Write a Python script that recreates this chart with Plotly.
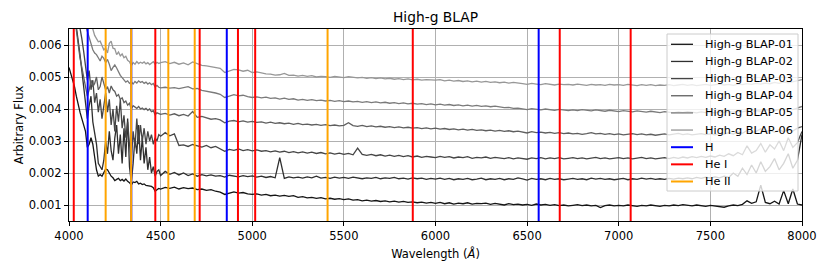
import plotly.graph_objects as go

# ---------------- data ----------------
series_names = ["High-g BLAP-01", "High-g BLAP-02", "High-g BLAP-03",
                "High-g BLAP-04", "High-g BLAP-05", "High-g BLAP-06"]
series_colors = ["#151515", "#2f2f2f", "#454545", "#5f5f5f", "#7a7a7a", "#979797"]

# wavelength grids (Angstrom)
wl_blue = list(range(4000, 4500, 10))
wl_red = list(range(4500, 8001, 25))

blap01_blue = [0.0053, 0.0051, 0.0049, 0.0047, 0.0044, 0.0041, 0.0039, 0.0037, 0.0035, 0.0033,
               0.0028, 0.0029, 0.0031, 0.0029, 0.0025, 0.0021, 0.0019, 0.00195, 0.0019, 0.0020,
               0.00212, 0.0021, 0.00198, 0.0019, 0.00185, 0.00176, 0.0018, 0.00183, 0.00176, 0.0018,
               0.00175, 0.00181, 0.00174, 0.0017, 0.00162, 0.00172, 0.0017, 0.00174, 0.00166, 0.00168,
               0.00164, 0.00166, 0.00161, 0.0016, 0.00157, 0.00158, 0.00154, 0.00143, 0.00148, 0.00152]
blap01_red = [0.00150, 0.00155, 0.00152, 0.00156, 0.00150, 0.00154, 0.00151, 0.00153, 0.00148, 0.00150,
              0.00146, 0.00148, 0.00143, 0.00140, 0.00133, 0.00138, 0.00141, 0.00137, 0.00139, 0.00135,
              0.00133, 0.00135, 0.00131, 0.00133, 0.00129, 0.00131, 0.00128, 0.00130, 0.00127, 0.00129,
              0.00124, 0.00126, 0.00122, 0.00124, 0.00121, 0.00123, 0.00119, 0.00121, 0.00118, 0.00120,
              0.00117, 0.00119, 0.00115, 0.00117, 0.00113, 0.00115, 0.00112, 0.00114, 0.00111, 0.00113,
              0.00110, 0.00112, 0.00109, 0.00111, 0.00108, 0.00110, 0.00107, 0.00109, 0.00106, 0.00108,
              0.00105, 0.00108, 0.00104, 0.00107, 0.00103, 0.00106, 0.00104, 0.00107, 0.00103, 0.00105,
              0.00104, 0.00106, 0.00102, 0.00105, 0.00103, 0.00100, 0.00104, 0.00101, 0.00103, 0.00100,
              0.00102, 0.00099, 0.00103, 0.00100, 0.00102, 0.00099, 0.00101, 0.00098, 0.00100, 0.00097,
              0.00099, 0.00101, 0.00098, 0.00100, 0.00097, 0.00099, 0.00092, 0.00098, 0.00100, 0.00097,
              0.00099, 0.00097, 0.00100, 0.00098, 0.00096, 0.00099, 0.00097, 0.00100, 0.00098, 0.00096,
              0.00099, 0.00097, 0.00100, 0.00098, 0.00101, 0.00099, 0.00097, 0.00100, 0.00098, 0.00096,
              0.00099, 0.00097, 0.00095, 0.00093, 0.00097, 0.00100, 0.00098, 0.00102, 0.00113, 0.00105,
              0.00110, 0.00162, 0.00108, 0.00104, 0.00112, 0.00103, 0.00145, 0.00104, 0.00150, 0.00103,
              0.00100]

blap02_blue = [0.0078, 0.0076, 0.0073, 0.0070, 0.0066, 0.0062, 0.0057, 0.0052, 0.0047, 0.0042,
               0.0037, 0.0041, 0.0044, 0.0036, 0.0033, 0.0029, 0.0023, 0.0022, 0.0021, 0.0024,
               0.0030, 0.0026, 0.0033, 0.0027, 0.0024, 0.0031, 0.0035, 0.0026, 0.0032, 0.0023,
               0.0034, 0.0025, 0.0037, 0.0022, 0.0017, 0.0023, 0.0031, 0.0026, 0.0035, 0.0024,
               0.0031, 0.0023, 0.0028, 0.0021, 0.0025, 0.0020, 0.0022, 0.0019, 0.00205, 0.0021]
blap02_red = [0.00192, 0.00205, 0.00196, 0.00202, 0.00194, 0.00200, 0.00192, 0.00197, 0.00190, 0.00195,
              0.00191, 0.00194, 0.00190, 0.00192, 0.00187, 0.00193, 0.00190, 0.00188, 0.00192, 0.00189,
              0.00191, 0.00187, 0.00190, 0.00186, 0.00189, 0.00185, 0.00248, 0.00183, 0.00188, 0.00185,
              0.00187, 0.00184, 0.00188, 0.00185, 0.00190, 0.00184, 0.00186, 0.00183, 0.00187, 0.00184,
              0.00186, 0.00183, 0.00187, 0.00184, 0.00182, 0.00185, 0.00183, 0.00186, 0.00182, 0.00185,
              0.00183, 0.00186, 0.00182, 0.00184, 0.00181, 0.00185, 0.00182, 0.00184, 0.00180, 0.00183,
              0.00181, 0.00184, 0.00180, 0.00183, 0.00179, 0.00182, 0.00180, 0.00183, 0.00179, 0.00181,
              0.00184, 0.00179, 0.00182, 0.00180, 0.00183, 0.00179, 0.00182, 0.00180, 0.00185, 0.00182,
              0.00178, 0.00183, 0.00180, 0.00182, 0.00179, 0.00183, 0.00180, 0.00182, 0.00179, 0.00181,
              0.00183, 0.00180, 0.00182, 0.00179, 0.00184, 0.00181, 0.00183, 0.00180, 0.00182, 0.00179,
              0.00181, 0.00183, 0.00179, 0.00182, 0.00180, 0.00184, 0.00181, 0.00183, 0.00180, 0.00182,
              0.00180, 0.00183, 0.00181, 0.00184, 0.00182, 0.00185, 0.00182, 0.00186, 0.00183, 0.00187,
              0.00184, 0.00188, 0.00185, 0.00190, 0.00186, 0.00200, 0.00190, 0.00215, 0.00195, 0.00225,
              0.00200, 0.00235, 0.00205, 0.00220, 0.00245, 0.00210, 0.00230, 0.00260, 0.00215, 0.00240,
              0.00320]

blap03_blue = [0.0080, 0.0079, 0.0077, 0.0075, 0.0072, 0.0069, 0.0066, 0.0062, 0.0058, 0.0054,
               0.0049, 0.0052, 0.0046, 0.0049, 0.0042, 0.0045, 0.0039, 0.0043, 0.0037, 0.0041,
               0.0045, 0.0039, 0.0043, 0.0035, 0.0040, 0.0033, 0.0041, 0.0036, 0.0043, 0.0034,
               0.0038, 0.0031, 0.0036, 0.0029, 0.0024, 0.0033, 0.0028, 0.0037, 0.0029, 0.0035,
               0.0030, 0.0034, 0.0029, 0.0033, 0.0030, 0.0032, 0.0029, 0.0031, 0.0030, 0.0032]
blap03_red = [0.00315, 0.00326, 0.00316, 0.00322, 0.00286, 0.00288, 0.00283, 0.00289, 0.00284, 0.00281,
              0.00286, 0.00279, 0.00283, 0.00276, 0.00268, 0.00274, 0.00271, 0.00275, 0.00270, 0.00273,
              0.00269, 0.00272, 0.00268, 0.00270, 0.00266, 0.00269, 0.00265, 0.00268, 0.00264, 0.00267,
              0.00263, 0.00266, 0.00262, 0.00265, 0.00261, 0.00264, 0.00260, 0.00263, 0.00259, 0.00262,
              0.00258, 0.00261, 0.00257, 0.00278, 0.00258, 0.00255, 0.00258, 0.00254, 0.00257, 0.00253,
              0.00256, 0.00252, 0.00255, 0.00251, 0.00254, 0.00250, 0.00253, 0.00249, 0.00252, 0.00250,
              0.00248, 0.00252, 0.00249, 0.00251, 0.00247, 0.00250, 0.00248, 0.00251, 0.00246, 0.00249,
              0.00247, 0.00250, 0.00246, 0.00249, 0.00247, 0.00245, 0.00248, 0.00244, 0.00247, 0.00245,
              0.00243, 0.00247, 0.00245, 0.00248, 0.00244, 0.00247, 0.00245, 0.00248, 0.00244, 0.00246,
              0.00248, 0.00245, 0.00247, 0.00244, 0.00246, 0.00249, 0.00245, 0.00247, 0.00244, 0.00246,
              0.00248, 0.00245, 0.00247, 0.00244, 0.00246, 0.00249, 0.00245, 0.00247, 0.00244, 0.00246,
              0.00248, 0.00245, 0.00249, 0.00246, 0.00250, 0.00247, 0.00251, 0.00248, 0.00252, 0.00249,
              0.00253, 0.00250, 0.00256, 0.00252, 0.00260, 0.00254, 0.00264, 0.00257, 0.00285, 0.00262,
              0.00270, 0.00292, 0.00265, 0.00288, 0.00275, 0.00300, 0.00270, 0.00310, 0.00280, 0.00295,
              0.00330]

blap04_blue = [0.0080, 0.0078, 0.0074, 0.0069, 0.0064, 0.0060, 0.0056, 0.0053, 0.0050, 0.0047,
               0.0044, 0.0046, 0.0049, 0.0047, 0.0048, 0.0050, 0.0046, 0.0047, 0.0050, 0.0048,
               0.0046, 0.0047, 0.0045, 0.00472, 0.0046, 0.00455, 0.0044, 0.00445, 0.0043, 0.00435,
               0.00420, 0.00425, 0.00412, 0.00418, 0.00400, 0.00410, 0.00405, 0.00402, 0.00408, 0.00400,
               0.00403, 0.00398, 0.00402, 0.00396, 0.00400, 0.00392, 0.00395, 0.00382, 0.00388, 0.00385]
blap04_red = [0.00383, 0.00386, 0.00381, 0.00385, 0.00379, 0.00383, 0.00378, 0.00392, 0.00374, 0.00377,
              0.00372, 0.00368, 0.00370, 0.00366, 0.00357, 0.00362, 0.00364, 0.00360, 0.00363, 0.00359,
              0.00361, 0.00358, 0.00360, 0.00356, 0.00359, 0.00355, 0.00357, 0.00354, 0.00356, 0.00352,
              0.00355, 0.00351, 0.00353, 0.00350, 0.00352, 0.00349, 0.00351, 0.00348, 0.00350, 0.00347,
              0.00349, 0.00357, 0.00348, 0.00346, 0.00349, 0.00345, 0.00347, 0.00344, 0.00346, 0.00343,
              0.00345, 0.00342, 0.00344, 0.00341, 0.00343, 0.00340, 0.00342, 0.00339, 0.00341, 0.00338,
              0.00340, 0.00337, 0.00339, 0.00336, 0.00338, 0.00335, 0.00337, 0.00334, 0.00336, 0.00333,
              0.00335, 0.00332, 0.00334, 0.00331, 0.00333, 0.00330, 0.00332, 0.00329, 0.00331, 0.00328,
              0.00325, 0.00329, 0.00326, 0.00328, 0.00325, 0.00327, 0.00324, 0.00326, 0.00323, 0.00325,
              0.00322, 0.00324, 0.00321, 0.00323, 0.00326, 0.00322, 0.00324, 0.00321, 0.00323, 0.00320,
              0.00322, 0.00319, 0.00321, 0.00323, 0.00320, 0.00322, 0.00319, 0.00321, 0.00318, 0.00320,
              0.00322, 0.00319, 0.00321, 0.00324, 0.00320, 0.00322, 0.00319, 0.00321, 0.00323, 0.00320,
              0.00322, 0.00319, 0.00324, 0.00321, 0.00326, 0.00322, 0.00328, 0.00324, 0.00333, 0.00326,
              0.00330, 0.00338, 0.00328, 0.00334, 0.00327, 0.00335, 0.00329, 0.00337, 0.00331, 0.00340,
              0.00345]

blap05_blue = [0.0080, 0.0079, 0.0078, 0.0077, 0.0076, 0.0074, 0.0072, 0.0070, 0.0068, 0.0066,
               0.0064, 0.0062, 0.0060, 0.00585, 0.00575, 0.00570, 0.00560, 0.00550, 0.00565, 0.00558,
               0.00545, 0.00555, 0.00540, 0.00520, 0.00530, 0.00538, 0.00528, 0.00515, 0.00505, 0.00498,
               0.00490, 0.00484, 0.00488, 0.00480, 0.00485, 0.00478, 0.00486, 0.00481, 0.00488, 0.00483,
               0.00486, 0.00480, 0.00484, 0.00478, 0.00482, 0.00476, 0.00480, 0.00469, 0.00474, 0.00468]
blap05_red = [0.00466, 0.00468, 0.00465, 0.00467, 0.00464, 0.00466, 0.00470, 0.00463, 0.00464, 0.00458,
              0.00456, 0.00452, 0.00450, 0.00446, 0.00436, 0.00440, 0.00445, 0.00441, 0.00443, 0.00439,
              0.00436, 0.00438, 0.00435, 0.00437, 0.00433, 0.00435, 0.00431, 0.00434, 0.00430, 0.00432,
              0.00428, 0.00430, 0.00427, 0.00429, 0.00426, 0.00428, 0.00425, 0.00427, 0.00424, 0.00426,
              0.00423, 0.00425, 0.00422, 0.00424, 0.00421, 0.00423, 0.00420, 0.00422, 0.00419, 0.00421,
              0.00418, 0.00420, 0.00417, 0.00419, 0.00416, 0.00418, 0.00415, 0.00417, 0.00414, 0.00416,
              0.00413, 0.00415, 0.00412, 0.00414, 0.00411, 0.00413, 0.00410, 0.00412, 0.00409, 0.00411,
              0.00408, 0.00410, 0.00407, 0.00409, 0.00406, 0.00404, 0.00405, 0.00402, 0.00403, 0.00400,
              0.00398, 0.00401, 0.00399, 0.00397, 0.00400, 0.00398, 0.00396, 0.00399, 0.00397, 0.00395,
              0.00397, 0.00395, 0.00398, 0.00396, 0.00394, 0.00397, 0.00395, 0.00393, 0.00396, 0.00394,
              0.00392, 0.00395, 0.00393, 0.00391, 0.00394, 0.00392, 0.00390, 0.00393, 0.00391, 0.00389,
              0.00392, 0.00390, 0.00388, 0.00391, 0.00389, 0.00392, 0.00390, 0.00388, 0.00391, 0.00389,
              0.00390, 0.00388, 0.00391, 0.00389, 0.00392, 0.00390, 0.00393, 0.00391, 0.00394, 0.00392,
              0.00395, 0.00393, 0.00396, 0.00398, 0.00395, 0.00399, 0.00397, 0.00401, 0.00398, 0.00403,
              0.00408]

blap06_blue = [0.0080, 0.0079, 0.0078, 0.0077, 0.0076, 0.0075, 0.0074, 0.0072, 0.0070, 0.0068,
               0.0068, 0.0067, 0.0066, 0.0065, 0.0063, 0.0062, 0.0061, 0.00612, 0.00596, 0.00585,
               0.00590, 0.00575, 0.00605, 0.00612, 0.00590, 0.00588, 0.00570, 0.00578, 0.00566, 0.00572,
               0.00560, 0.00565, 0.00552, 0.00548, 0.00535, 0.00545, 0.00540, 0.00548, 0.00542, 0.00546,
               0.00543, 0.00547, 0.00541, 0.00545, 0.00539, 0.00544, 0.00548, 0.00540, 0.00546, 0.00542]
blap06_red = [0.00545, 0.00548, 0.00542, 0.00546, 0.00540, 0.00544, 0.00538, 0.00547, 0.00542, 0.00536,
              0.00535, 0.00532, 0.00530, 0.00527, 0.00514, 0.00520, 0.00524, 0.00522, 0.00518, 0.00521,
              0.00514, 0.00516, 0.00512, 0.00510, 0.00509, 0.00506, 0.00507, 0.00511, 0.00505, 0.00506,
              0.00503, 0.00505, 0.00502, 0.00504, 0.00500, 0.00502, 0.00501, 0.00499, 0.00502, 0.00500,
              0.00498, 0.00501, 0.00499, 0.00497, 0.00499, 0.00496, 0.00498, 0.00495, 0.00497, 0.00494,
              0.00496, 0.00493, 0.00495, 0.00492, 0.00494, 0.00491, 0.00493, 0.00490, 0.00492, 0.00491,
              0.00490, 0.00492, 0.00488, 0.00490, 0.00487, 0.00489, 0.00486, 0.00488, 0.00485, 0.00487,
              0.00484, 0.00486, 0.00483, 0.00485, 0.00482, 0.00484, 0.00481, 0.00483, 0.00480, 0.00479,
              0.00477, 0.00480, 0.00478, 0.00476, 0.00479, 0.00477, 0.00475, 0.00478, 0.00476, 0.00477,
              0.00475, 0.00478, 0.00476, 0.00474, 0.00477, 0.00475, 0.00476, 0.00474, 0.00477, 0.00475,
              0.00476, 0.00474, 0.00477, 0.00475, 0.00473, 0.00476, 0.00474, 0.00476, 0.00473, 0.00475,
              0.00474, 0.00476, 0.00473, 0.00475, 0.00477, 0.00474, 0.00476, 0.00473, 0.00475, 0.00477,
              0.00474, 0.00476, 0.00478, 0.00475, 0.00477, 0.00474, 0.00478, 0.00476, 0.00479, 0.00477,
              0.00480, 0.00478, 0.00481, 0.00479, 0.00483, 0.00480, 0.00484, 0.00482, 0.00486, 0.00488,
              0.00492]

# spectral line positions (Angstrom)
h_lines = [4102, 4340, 4861, 6563]
hei_lines = [4026, 4471, 4713, 4922, 5016, 5876, 6678, 7065]
heii_lines = [4200, 4339, 4542, 4686, 5411]
line_groups = [("H", h_lines, "#0000ff"), ("He I", hei_lines, "#ff0000"), ("He II", heii_lines, "#ffa500")]

x_ticks = [4000, 4500, 5000, 5500, 6000, 6500, 7000, 7500, 8000]
y_ticks = [0.001, 0.002, 0.003, 0.004, 0.005, 0.006]
y_tick_labels = ["0.001", "0.002", "0.003", "0.004", "0.005", "0.006"]
x_range = [4000, 8000]
y_range = [0.0005, 0.0065]

# ---------------- figure ----------------
FONT = "DejaVu Sans"
# the page body adds an 8 px margin, so the figure is 8 px smaller on each side
W, H = 822, 266
ML, MT = 61, 21
PW, PH = 733, 192
MR, MB = W - ML - PW, H - MT - PH

wl = wl_blue + wl_red
series = [blap01_blue + blap01_red, blap02_blue + blap02_red, blap03_blue + blap03_red,
          blap04_blue + blap04_red, blap05_blue + blap05_red, blap06_blue + blap06_red]

fig = go.Figure()
for name, col, ys in zip(series_names, series_colors, series):
    fig.add_trace(go.Scatter(x=wl, y=ys, mode="lines", name=name,
                             line=dict(color=col, width=1.3), hoverinfo="skip"))

for name, lines, col in line_groups:
    xs, ys = [], []
    for l in lines:
        xs += [l, l, None]
        ys += [0, 1, None]
    fig.add_trace(go.Scatter(x=xs, y=ys, mode="lines", name=name, yaxis="y2",
                             line=dict(color=col, width=2), hoverinfo="skip"))

# ---- matplotlib-style legend (box + samples + labels) in plot-area pixels ----
def px(xp):  # plot-area pixel -> paper x
    return xp / PW

def py(yp):  # plot-area pixel from top -> paper y
    return 1 - yp / PH

leg_items = ([(n, c, 1.3) for n, c in zip(series_names, series_colors)] +
             [(n, c, 2) for n, _, c in line_groups])
box_l, box_r, box_t, box_b = 598, 729, 5, 162
row0, row_step = 15.3, 17.15
shapes = [dict(type="rect", xref="paper", yref="paper", layer="above",
               x0=px(box_l), x1=px(box_r), y0=py(box_b), y1=py(box_t),
               fillcolor="rgba(255,255,255,0.8)", line=dict(color="#cccccc", width=1))]
annotations = []
for k, (n, c, w) in enumerate(leg_items):
    yy = py(row0 + k * row_step)
    shapes.append(dict(type="line", xref="paper", yref="paper", layer="above",
                       x0=px(602), x1=px(624), y0=yy, y1=yy, line=dict(color=c, width=w)))
    annotations.append(dict(text=n, xref="paper", yref="paper", x=px(634), y=yy,
                            xanchor="left", yanchor="middle", showarrow=False,
                            font=dict(family=FONT, size=11.3, color="black")))

axis_common = dict(showline=True, linecolor="black", linewidth=1, mirror=True,
                   ticks="outside", ticklen=4, tickwidth=1, tickcolor="black",
                   showgrid=True, gridcolor="#b0b0b0", gridwidth=1, zeroline=False,
                   automargin=False,
                   tickfont=dict(family=FONT, size=11.5, color="black"))

fig.update_layout(
    width=W, height=H,
    margin=dict(l=ML, r=MR, t=MT, b=MB, pad=0),
    paper_bgcolor="white", plot_bgcolor="white",
    font=dict(family=FONT, size=11.5, color="black"),
    title=dict(text="High-g BLAP", x=0.5, xref="paper", xanchor="center",
               y=1 - 9.5 / H, yref="container", yanchor="middle", automargin=False,
               font=dict(family=FONT, size=13.8, color="black")),
    xaxis=dict(range=x_range, tickvals=x_ticks, **axis_common,
               title=dict(text="Wavelength (<i>Å</i>)", standoff=8,
                          font=dict(family=FONT, size=11.5, color="black"))),
    yaxis=dict(range=y_range, tickvals=y_ticks, ticktext=y_tick_labels, **axis_common,
               title=dict(text="Arbitrary Flux", standoff=2,
                          font=dict(family=FONT, size=11.5, color="black"))),
    yaxis2=dict(range=[0, 1], overlaying="y", visible=False, fixedrange=True),
    showlegend=False,
    shapes=shapes,
    annotations=annotations,
)

fig.write_html("out.html")
